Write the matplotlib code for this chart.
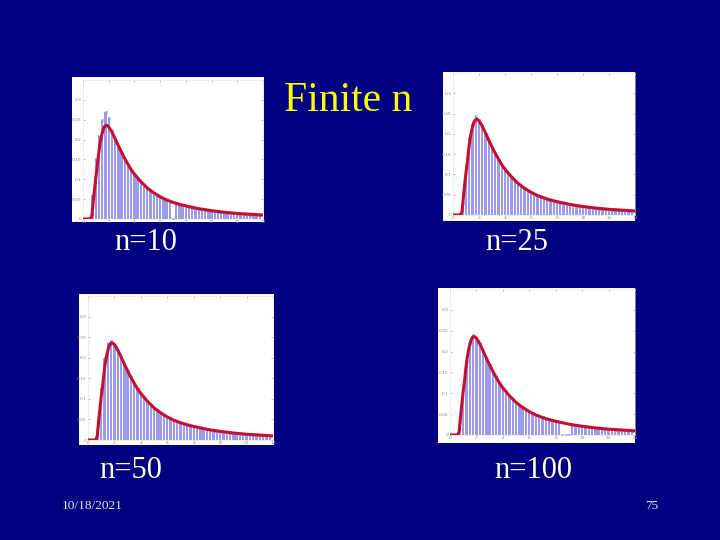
import numpy as np
import matplotlib
matplotlib.use('Agg')
import matplotlib.pyplot as plt

# slide texts
title = "Finite n"
panel_labels = ["n=10", "n=25", "n=50", "n=100"]
footer_date = "10/18/2021"
footer_page = "75"

# histogram bin centres (0.75 ... 13.75, step 0.25)
bin_x = np.arange(0.75, 13.76, 0.25)

# bar heights
bars_n10 = [0.06, 0.15, 0.21, 0.25, 0.27, 0.255, 0.225, 0.20, 0.18, 0.165,
            0.148, 0.135, 0.12, 0.112, 0.10, 0.092, 0.082, 0.075, 0.07, 0.065,
            0.058, 0.055, 0.05, 0.047, 0.043, 0.0, 0.038, 0.036, 0.034, 0.032,
            0.03, 0.028, 0.027, 0.025, 0.024, 0.023, 0.021, 0.02, 0.019, 0.018,
            0.017, 0.016, 0.015, 0.015, 0.014, 0.013, 0.013, 0.012, 0.012, 0.011,
            0.011, 0.010, 0.010]
bars_n25 = [0.03, 0.12, 0.19, 0.225, 0.245, 0.235, 0.22, 0.2, 0.183, 0.166,
            0.15, 0.136, 0.122, 0.11, 0.1, 0.092, 0.084, 0.076, 0.07, 0.064,
            0.06, 0.055, 0.05, 0.047, 0.044, 0.041, 0.038, 0.036, 0.034, 0.032,
            0.03, 0.029, 0.027, 0.026, 0.024, 0.023, 0.022, 0.021, 0.02, 0.019,
            0.018, 0.017, 0.016, 0.0155, 0.015, 0.014, 0.0135, 0.013, 0.0125, 0.012,
            0.0115, 0.011, 0.0105]
bars_n50 = [0.035, 0.125, 0.2, 0.235, 0.24, 0.232, 0.215, 0.2, 0.185, 0.168,
            0.152, 0.137, 0.125, 0.113, 0.103, 0.094, 0.086, 0.078, 0.072, 0.066,
            0.061, 0.056, 0.052, 0.048, 0.045, 0.042, 0.039, 0.037, 0.035, 0.033,
            0.031, 0.029, 0.028, 0.026, 0.025, 0.023, 0.022, 0.021, 0.02, 0.019,
            0.018, 0.017, 0.016, 0.0155, 0.015, 0.014, 0.0135, 0.013, 0.0125, 0.012,
            0.0115, 0.011, 0.0105]
bars_n100 = [0.03, 0.11, 0.175, 0.218, 0.24, 0.232, 0.219, 0.202, 0.185, 0.168,
             0.152, 0.138, 0.124, 0.113, 0.103, 0.094, 0.086, 0.078, 0.072, 0.066,
             0.061, 0.056, 0.052, 0.048, 0.045, 0.042, 0.039, 0.037, 0.035, 0.033,
             0.031, 0.0, 0.0, 0.0, 0.025, 0.023, 0.022, 0.021, 0.02, 0.019,
             0.018, 0.017, 0.016, 0.0155, 0.015, 0.014, 0.0135, 0.013, 0.0125, 0.012,
             0.0115, 0.011, 0.0105]

# limiting density (red curve), same in every panel
curve_x = [0, 0.5, 0.6, 0.7, 0.8, 0.9, 1.0, 1.1, 1.2, 1.3, 1.4, 1.5, 1.6, 1.7,
           1.8, 1.9, 2.0, 2.2, 2.4, 2.6, 2.8, 3.0, 3.25, 3.5, 3.75, 4.0, 4.5,
           5, 5.5, 6, 6.5, 7, 7.5, 8, 9, 10, 11, 12, 13, 14]
curve_y = [0, 0, 0, 0.01, 0.045, 0.075, 0.105, 0.13, 0.16, 0.185, 0.203, 0.217,
           0.228, 0.234, 0.236, 0.235, 0.232, 0.222, 0.209, 0.195, 0.181, 0.168,
           0.152, 0.138, 0.124, 0.113, 0.094, 0.078, 0.066, 0.056, 0.048, 0.042,
           0.037, 0.033, 0.026, 0.021, 0.017, 0.014, 0.012, 0.010]

x_ticks = [0, 2, 4, 6, 8, 10, 12, 14]
y_ticks = [0, 0.05, 0.1, 0.15, 0.2, 0.25, 0.3]
y_ticklabels = ["0", "0.05", "0.1", "0.15", "0.2", "0.25", "0.3"]

W, H = 720, 540
BG = '#000080'

fig = plt.figure(figsize=(7.2, 5.4), dpi=100)
fig.patch.set_facecolor(BG)


def px_rect(x0, y0, x1, y1):
    # pixel box (top-left origin) -> figure fraction rect
    return [x0 / W, 1 - y1 / H, (x1 - x0) / W, (y1 - y0) / H]


# (white image box, plot area box) in pixels
panels = [
    ((72, 77, 264, 222), (83, 80, 263, 219), bars_n10),
    ((443, 72, 635, 221), (453, 73, 635, 215), bars_n25),
    ((79, 294, 274, 445), (88, 296, 273, 440), bars_n50),
    ((438, 288, 635, 443), (450, 289, 635, 435), bars_n100),
]

for img_box, ax_box, bars in panels:
    bg = fig.add_axes(px_rect(*img_box))
    bg.set_facecolor('white')
    bg.set_xticks([])
    bg.set_yticks([])
    for s in bg.spines.values():
        s.set_visible(False)

    ax = fig.add_axes(px_rect(*ax_box))
    ax.set_facecolor('white')
    ax.bar(bin_x, bars, width=0.18, color='#9c9cee', edgecolor='none', zorder=2)
    ax.plot(bin_x, bars, linestyle='none', marker='x', ms=2, mew=0.5,
            color='#8c8ce6', zorder=3)
    ax.plot(curve_x, curve_y, color='#c4102e', lw=2.2, zorder=4)
    ax.set_xlim(0, 14)
    ax.set_ylim(0, 0.35)
    ax.set_xticks(x_ticks)
    ax.set_xticklabels([str(t) for t in x_ticks])
    ax.set_yticks(y_ticks)
    ax.set_yticklabels(y_ticklabels)
    ax.tick_params(direction='in', length=1.5, width=0.4, colors='#888888',
                   labelsize=3.2, pad=1, top=True, right=True)
    for s in ax.spines.values():
        s.set_color('#dddddd')
        s.set_linewidth(0.4)

fig.text(348 / W, 1 - 111 / H, title, color='#ffff00', fontsize=30,
         family='Liberation Serif', ha='center', va='baseline')

label_pos = [(146, 250), (517, 250), (131, 478), (533, 478)]
for lab, (lx, ly) in zip(panel_labels, label_pos):
    fig.text(lx / W, 1 - ly / H, lab, color='#ffffd8', fontsize=22,
             family='Liberation Serif', ha='center', va='baseline')

fig.text(92 / W, 1 - 509 / H, footer_date, color='#e8e8e8', fontsize=9.6,
         family='Liberation Serif', ha='center', va='baseline')
fig.text(658 / W, 1 - 509 / H, footer_page, color='#e8e8e8', fontsize=9.6,
         family='Liberation Serif', ha='right', va='baseline')

fig.savefig('out.png', dpi=100, facecolor=BG)
